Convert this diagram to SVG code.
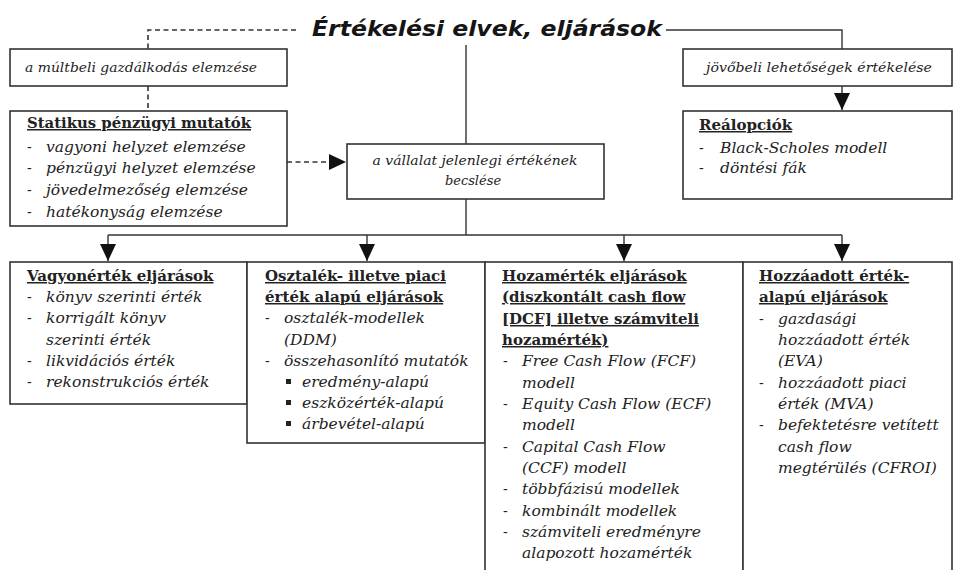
<svg xmlns="http://www.w3.org/2000/svg" width="954" height="570" viewBox="0 0 954 570">
<defs>
<style>
.box{fill:#fff;stroke:#333;stroke-width:1.6}
.ln{fill:none;stroke:#333;stroke-width:1.4}
.dash{fill:none;stroke:#333;stroke-width:1.6;stroke-dasharray:5 3.5}
.title{font-family:"DejaVu Sans",Verdana,sans-serif;font-weight:bold;font-style:italic;font-size:22px;fill:#151515}
.it{font-family:"DejaVu Serif",serif;font-style:italic;font-size:15.5px;fill:#222}
.sm{font-family:"DejaVu Serif",serif;font-style:italic;font-size:13px;fill:#222}
.hd{font-family:"DejaVu Serif",serif;font-weight:bold;font-size:15px;fill:#222;text-decoration:underline}
.ds{font-family:"DejaVu Serif",serif;font-size:14px;fill:#222}
</style>
<marker id="ah" markerUnits="userSpaceOnUse" markerWidth="18" markerHeight="18" refX="17" refY="8" orient="auto" viewBox="0 0 18 16">
<path d="M0,0 L17,8 L0,16 z" fill="#111"/>
</marker>
</defs>
<rect width="954" height="570" fill="#fff"/>

<g id="title">
<text class="title" x="312" y="36" textLength="350" lengthAdjust="spacingAndGlyphs">Értékelési elvek, eljárások</text>
</g>

<g id="connectors">
<path class="dash" d="M296,30 H148 V49"/>
<path class="dash" d="M148,86 V111"/>
<path class="ln" d="M666,30 H842 V49"/>
<path class="ln" d="M842,86 V110" marker-end="url(#ah)"/>
<path class="ln" d="M466,45 V144"/>
<path class="dash" d="M287,162 H346" marker-end="url(#ah)"/>
<path class="ln" d="M466,199 V235"/>
<path class="ln" d="M108,235 H842"/>
<path class="ln" d="M108,235 V261" marker-end="url(#ah)"/>
<path class="ln" d="M367,235 V261" marker-end="url(#ah)"/>
<path class="ln" d="M624,235 V261" marker-end="url(#ah)"/>
<path class="ln" d="M842,235 V261" marker-end="url(#ah)"/>
</g>

<g id="multbeli">
<rect class="box" x="10" y="49" width="277" height="37"/>
<text class="sm" x="25" y="72" textLength="232" lengthAdjust="spacingAndGlyphs">a múltbeli gazdálkodás elemzése</text>
</g>

<g id="jovobeli">
<rect class="box" x="683" y="49" width="269" height="37"/>
<text class="sm" x="706" y="72" textLength="226" lengthAdjust="spacingAndGlyphs">jövőbeli lehetőségek értékelése</text>
</g>

<g id="statikus">
<rect class="box" x="10" y="111" width="277" height="115"/>
<text class="hd" x="27" y="128" textLength="224" lengthAdjust="spacingAndGlyphs">Statikus pénzügyi mutatók</text>
<text class="ds" x="27" y="152">-</text><text class="it" x="46" y="152">vagyoni helyzet elemzése</text>
<text class="ds" x="27" y="173">-</text><text class="it" x="46" y="173">pénzügyi helyzet elemzése</text>
<text class="ds" x="27" y="195">-</text><text class="it" x="46" y="195">jövedelmezőség elemzése</text>
<text class="ds" x="27" y="217">-</text><text class="it" x="46" y="217">hatékonyság elemzése</text>
</g>

<g id="vallalat">
<rect class="box" x="347" y="144" width="257" height="55"/>
<text class="sm" x="475" y="165" text-anchor="middle" textLength="205" lengthAdjust="spacingAndGlyphs">a vállalat jelenlegi értékének</text>
<text class="sm" x="473" y="185" text-anchor="middle">becslése</text>
</g>

<g id="realopciok">
<rect class="box" x="683" y="111" width="269" height="88"/>
<text class="hd" x="699" y="130">Reálopciók</text>
<text class="ds" x="699" y="153">-</text><text class="it" x="720" y="153">Black-Scholes modell</text>
<text class="ds" x="699" y="173">-</text><text class="it" x="720" y="173">döntési fák</text>
</g>

<g id="vagyonertek">
<rect class="box" x="10" y="262" width="237" height="142"/>
<text class="hd" x="27" y="281">Vagyonérték eljárások</text>
<text class="ds" x="27" y="302">-</text><text class="it" x="46" y="302">könyv szerinti érték</text>
<text class="ds" x="27" y="323">-</text><text class="it" x="46" y="323">korrigált könyv</text>
<text class="it" x="46" y="345">szerinti érték</text>
<text class="ds" x="27" y="366">-</text><text class="it" x="46" y="366">likvidációs érték</text>
<text class="ds" x="27" y="387">-</text><text class="it" x="46" y="387">rekonstrukciós érték</text>
</g>

<g id="osztalek">
<rect class="box" x="247" y="262" width="238" height="181"/>
<text class="hd" x="265" y="281">Osztalék- illetve piaci</text>
<text class="hd" x="265" y="302">érték alapú eljárások</text>
<text class="ds" x="265" y="323">-</text><text class="it" x="284" y="323">osztalék-modellek</text>
<text class="it" x="284" y="345">(DDM)</text>
<text class="ds" x="265" y="366">-</text><text class="it" x="284" y="366">összehasonlító mutatók</text>
<rect x="286" y="379" width="5" height="5" fill="#222"/><text class="it" x="302" y="387">eredmény-alapú</text>
<rect x="286" y="400" width="5" height="5" fill="#222"/><text class="it" x="302" y="408">eszközérték-alapú</text>
<rect x="286" y="421" width="5" height="5" fill="#222"/><text class="it" x="302" y="429">árbevétel-alapú</text>
</g>

<g id="hozamertek">
<rect class="box" x="485" y="262" width="258" height="330"/>
<text class="hd" x="502" y="281">Hozamérték eljárások</text>
<text class="hd" x="502" y="302">(diszkontált cash flow</text>
<text class="hd" x="502" y="324">[DCF] illetve számviteli</text>
<text class="hd" x="502" y="345">hozamérték)</text>
<text class="ds" x="503" y="366">-</text><text class="it" x="522" y="366">Free Cash Flow (FCF)</text>
<text class="it" x="522" y="388">modell</text>
<text class="ds" x="503" y="409">-</text><text class="it" x="522" y="409">Equity Cash Flow (ECF)</text>
<text class="it" x="522" y="430">modell</text>
<text class="ds" x="503" y="452">-</text><text class="it" x="522" y="452">Capital Cash Flow</text>
<text class="it" x="522" y="473">(CCF) modell</text>
<text class="ds" x="503" y="494">-</text><text class="it" x="522" y="494">többfázisú modellek</text>
<text class="ds" x="503" y="516">-</text><text class="it" x="522" y="516">kombinált modellek</text>
<text class="ds" x="503" y="537">-</text><text class="it" x="522" y="537">számviteli eredményre</text>
<text class="it" x="522" y="558">alapozott hozamérték</text>
</g>

<g id="hozzaadott">
<rect class="box" x="743" y="262" width="209" height="330"/>
<text class="hd" x="759" y="281">Hozzáadott érték-</text>
<text class="hd" x="759" y="302">alapú eljárások</text>
<text class="ds" x="759" y="324">-</text><text class="it" x="778" y="324">gazdasági</text>
<text class="it" x="778" y="345">hozzáadott érték</text>
<text class="it" x="778" y="366">(EVA)</text>
<text class="ds" x="759" y="388">-</text><text class="it" x="778" y="388">hozzáadott piaci</text>
<text class="it" x="778" y="409">érték (MVA)</text>
<text class="ds" x="759" y="430">-</text><text class="it" x="778" y="430">befektetésre vetített</text>
<text class="it" x="778" y="452">cash flow</text>
<text class="it" x="778" y="473">megtérülés (CFROI)</text>
</g>
</svg>
